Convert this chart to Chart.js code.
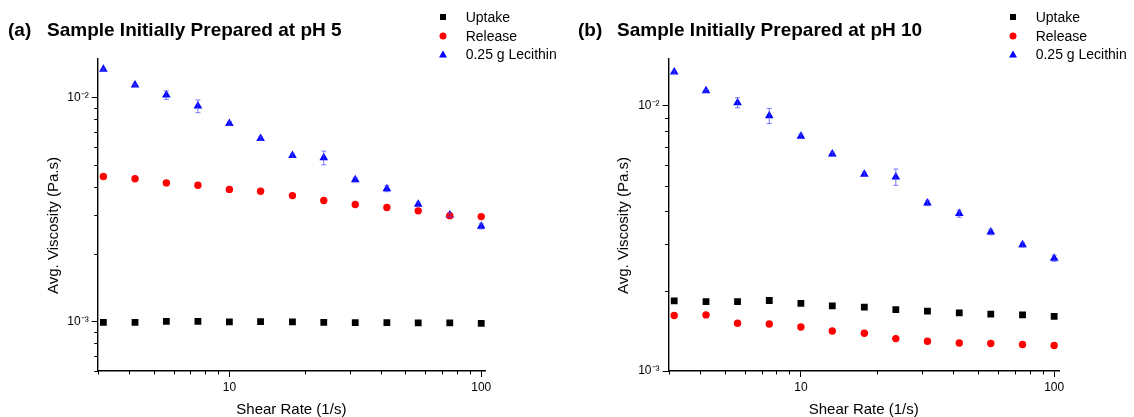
<!DOCTYPE html>
<html lang="en">
<head>
<meta charset="UTF-8">
<title>Avg. Viscosity vs Shear Rate</title>
<script src="https://cdn.jsdelivr.net/npm/chart.js"></script>
<style>
  body { margin: 0; background: #fff; font-family: "Liberation Sans", Arial, sans-serif; color: #000; }
  #wrap { position: relative; width: 1134px; height: 417px; overflow: hidden; }
  .panel { position: absolute; top: 0; width: 567px; height: 417px; }
  .title { position: absolute; top: 19px; font-weight: bold; font-size: 19px; line-height: 22px; white-space: nowrap; }
  .ytitle { position: absolute; top: 126px; width: 16px; height: 200px; font-size: 15px; line-height: 16px;
            white-space: nowrap; text-align: center; writing-mode: vertical-rl; transform: rotate(180deg); }
  .legend { position: absolute; top: 8px; font-size: 14px; }
  .legend .item { position: relative; height: 18.5px; line-height: 18.5px; padding-left: 22.7px; white-space: nowrap; }
  .mk { position: absolute; left: 0; top: 50%; transform: translate(-50%, -50%); }
  .sq { width: 6px; height: 6px; background: #000; }
  .ci { width: 7px; height: 7px; border-radius: 50%; background: #f00; }
  .tr { width: 0; height: 0; border-left: 4px solid transparent; border-right: 4px solid transparent; border-bottom: 7px solid #00f; }
</style>
</head>
<body>
<div id="wrap">
  <div class="panel" style="left:0"><canvas id="chartA" width="567" height="417"></canvas></div>
  <div class="panel" style="left:567px"><canvas id="chartB" width="567" height="417"></canvas></div>

  <div class="title" style="left:8px">(a)</div>
  <div class="title" style="left:47px">Sample Initially Prepared at pH 5</div>
  <div class="title" style="left:578px">(b)</div>
  <div class="title" style="left:617px">Sample Initially Prepared at pH 10</div>

  <div class="ytitle" style="left:45px">Avg. Viscosity (Pa.s)</div>
  <div class="ytitle" style="left:615px">Avg. Viscosity (Pa.s)</div>

  <div class="legend" style="left:443px">
    <div class="item"><span class="mk sq"></span>Uptake</div>
    <div class="item"><span class="mk ci"></span>Release</div>
    <div class="item"><span class="mk tr"></span>0.25 g Lecithin</div>
  </div>
  <div class="legend" style="left:1013px">
    <div class="item"><span class="mk sq"></span>Uptake</div>
    <div class="item"><span class="mk ci"></span>Release</div>
    <div class="item"><span class="mk tr"></span>0.25 g Lecithin</div>
  </div>
</div>

<script>
// shear rate (1/s)
const shearRate = [3.16, 4.22, 5.62, 7.5, 10, 13.3, 17.8, 23.7, 31.6, 42.2, 56.2, 75, 100];

// avg. viscosity (Pa.s), sample prepared at pH 5
const uptakePH5  = [0.00099, 0.00099, 0.00100, 0.00100, 0.000994, 0.000997, 0.000994, 0.00099, 0.000987, 0.000987, 0.000984, 0.000984, 0.00098];
const releasePH5 = [0.00444, 0.00434, 0.00416, 0.00406, 0.00389, 0.00382, 0.00365, 0.00347, 0.00333, 0.00323, 0.00312, 0.00297, 0.00294];

// sample prepared at pH 10
const uptakePH10  = [0.001837, 0.001827, 0.001827, 0.001844, 0.00180, 0.001759, 0.00174, 0.001705, 0.00168, 0.001655, 0.001637, 0.001627, 0.001608];
const releasePH10 = [0.001618, 0.001627, 0.001514, 0.001504, 0.001466, 0.001416, 0.001388, 0.001325, 0.001294, 0.001275, 0.001269, 0.001258, 0.001247];

// 0.25 g lecithin reference (same in both panels) and its error
const lecithin    = [0.01339, 0.01139, 0.01027, 0.00917, 0.00767, 0.00657, 0.00552, 0.00539, 0.0043, 0.00392, 0.00334, 0.00299, 0.00266];
const lecithinErr = [0.00015, 0.00012, 0.00045, 0.0006, 0.00015, 0.00012, 0.0001, 0.00038, 0.0001, 0.00012, 0.00008, 0.00006, 0.00007];

// tick labels
const xMajorTicks  = [10, 100];
const xMajorLabels = ['10', '100'];
const yMajorTicks  = [0.001, 0.01];
const yMajorLabels = ['10\u207B\u00B3', '10\u207B\u00B2'];

function pts(ys) {
  return shearRate.map((x, i) => ({ x: x, y: ys[i] }));
}

// minor ticks 2..9 x 10^k inside [min, max], majors at the labelled powers
function logTicks(min, max, majors) {
  const out = [];
  for (let k = -5; k <= 3; k++) {
    for (let m = 1; m <= 9; m++) {
      const v = +(m * Math.pow(10, k)).toPrecision(6);
      if (v < min * 0.9999 || v > max * 1.0001) continue;
      out.push({ value: v, major: majors.some(t => Math.abs(t - v) / t < 1e-6) });
    }
  }
  return out;
}

const errorBars = {
  id: 'errorBars',
  afterDatasetsDraw(chart) {
    const ctx = chart.ctx;
    const ys = chart.scales.y;
    chart.data.datasets.forEach((ds, i) => {
      if (!ds.errors) return;
      const meta = chart.getDatasetMeta(i);
      ctx.save();
      ctx.strokeStyle = 'rgba(70,70,255,0.7)';
      ctx.lineWidth = 1;
      meta.data.forEach((el, j) => {
        const v = ds.data[j].y, e = ds.errors[j];
        const top = ys.getPixelForValue(v + e);
        const bot = ys.getPixelForValue(v - e);
        ctx.beginPath();
        ctx.moveTo(el.x, top); ctx.lineTo(el.x, bot);
        ctx.moveTo(el.x - 2.5, top); ctx.lineTo(el.x + 2.5, top);
        ctx.moveTo(el.x - 2.5, bot); ctx.lineTo(el.x + 2.5, bot);
        ctx.stroke();
      });
      ctx.restore();
    });
  }
};

const minorTicks = {
  id: 'minorTicks',
  afterDraw(chart) {
    const { ctx, chartArea } = chart;
    const x = chart.scales.x, y = chart.scales.y;
    ctx.save();
    ctx.strokeStyle = '#000';
    ctx.lineWidth = 1;
    ctx.beginPath();
    x.ticks.forEach(t => {
      if (t.major) return;
      const px = Math.round(x.getPixelForValue(t.value)) + 0.5;
      ctx.moveTo(px, chartArea.bottom); ctx.lineTo(px, chartArea.bottom + 3.5);
    });
    y.ticks.forEach(t => {
      if (t.major) return;
      const py = Math.round(y.getPixelForValue(t.value)) + 0.5;
      ctx.moveTo(chartArea.left, py); ctx.lineTo(chartArea.left - 3.5, py);
    });
    ctx.stroke();
    ctx.restore();
  }
};

function makeChart(id, cfg) {
  const tickColor = c => (c.tick && c.tick.major) ? '#000' : 'rgba(0,0,0,0)';
  return new Chart(document.getElementById(id), {
    type: 'scatter',
    data: {
      datasets: [
        { label: 'Uptake', data: pts(cfg.uptake), pointStyle: 'rect', pointRadius: 4.8,
          backgroundColor: '#000', borderColor: '#000', borderWidth: 0 },
        { label: 'Release', data: pts(cfg.release), pointStyle: 'circle', pointRadius: 3.7,
          backgroundColor: '#f00', borderColor: '#f00', borderWidth: 0 },
        { label: '0.25 g Lecithin', data: pts(lecithin), errors: lecithinErr, pointStyle: 'triangle', pointRadius: 5,
          backgroundColor: '#00f', borderColor: '#00f', borderWidth: 0 }
      ]
    },
    options: {
      responsive: false,
      animation: false,
      layout: { padding: { top: cfg.padTop, right: cfg.padRight, left: 0, bottom: 0 } },
      plugins: { legend: { display: false }, tooltip: { enabled: false } },
      scales: {
        x: {
          type: 'logarithmic',
          min: 3, max: cfg.xMax,
          afterFit: s => { s.height = 46; },
          afterBuildTicks: s => { s.ticks = logTicks(3, cfg.xMax, xMajorTicks); },
          border: { display: true, color: '#000', width: 1.4 },
          grid: { drawOnChartArea: false, drawTicks: true, tickLength: 6, tickColor: tickColor, tickWidth: 1 },
          ticks: {
            autoSkip: false, maxRotation: 0, padding: 3, color: '#000',
            font: { family: 'Liberation Sans, Arial, sans-serif', size: 12 },
            callback: v => { const i = xMajorTicks.indexOf(v); return i >= 0 ? xMajorLabels[i] : ''; }
          },
          title: {
            display: true, text: 'Shear Rate (1/s)', color: '#000',
            font: { family: 'Liberation Sans, Arial, sans-serif', size: 15, lineHeight: 1 },
            padding: { top: 0, bottom: 0 }
          }
        },
        y: {
          type: 'logarithmic',
          min: cfg.yMin, max: 0.015,
          afterFit: s => { s.width = cfg.leftW; },
          afterBuildTicks: s => { s.ticks = logTicks(cfg.yMin, 0.015, yMajorTicks); },
          border: { display: true, color: '#000', width: 1.4 },
          grid: { drawOnChartArea: false, drawTicks: true, tickLength: 6, tickColor: tickColor, tickWidth: 1 },
          ticks: {
            autoSkip: false, padding: 3, color: '#000',
            font: { family: 'Liberation Sans, Arial, sans-serif', size: 12 },
            callback: v => { const i = yMajorTicks.findIndex(t => Math.abs(t - v) / t < 1e-6); return i >= 0 ? yMajorLabels[i] : ''; }
          },
          title: { display: false }
        }
      }
    },
    plugins: [errorBars, minorTicks]
  });
}

makeChart('chartA', { uptake: uptakePH5, release: releasePH5, yMin: 0.0006, xMax: 103.5,
  leftW: 97.7, padTop: 58.3, padRight: 82 });
makeChart('chartB', { uptake: uptakePH10, release: releasePH10, yMin: 0.001, xMax: 104.5,
  leftW: 101.5, padTop: 59, padRight: 75 });
</script>
</body>
</html>
